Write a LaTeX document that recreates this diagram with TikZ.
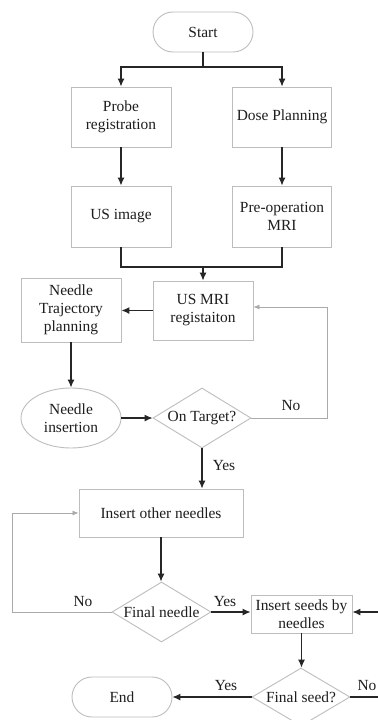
\documentclass[tikz,border=0pt]{standalone}
\usepackage{fontspec}
\setmainfont{Liberation Serif}
\usetikzlibrary{shapes.geometric,arrows.meta,calc}
\definecolor{boxgray}{HTML}{BDBDBD}
\definecolor{txt}{HTML}{1E1E1E}
\definecolor{fbgray}{HTML}{AAAAAA}
\begin{document}
\begin{tikzpicture}[x=1bp,y=-1bp,
  every node/.style={font=\fontsize{15.5}{18}\selectfont, text=txt},
  box/.style={draw=boxgray, line width=0.9pt, rectangle, inner sep=0pt, align=center},
  term/.style={box, rounded corners=20bp, minimum width=100bp, minimum height=40bp},
  oval/.style={draw=boxgray, line width=0.9pt, ellipse, inner sep=0pt, align=center, minimum width=100bp, minimum height=60bp},
  dia/.style={draw=boxgray, line width=0.9pt, diamond, inner sep=0pt, minimum width=98bp, minimum height=60bp},
  arr/.style={draw=black!85, line width=1.1pt, -{Latex[length=8bp,width=7bp]}},
  ln/.style={draw=black!85, line width=1.1pt},
  fb/.style={draw=fbgray, line width=0.8pt, -{Latex[length=6bp,width=5bp]}},
  fbl/.style={draw=fbgray, line width=0.8pt},
  lab/.style={inner sep=0pt}
]
\useasboundingbox (0,0) rectangle (377,720);
\fill[white] (0,0) rectangle (377,720);

\node[term] (start) at (203,32) {Start};
\node[box, minimum width=100bp, minimum height=60bp] (probe) at (121,117) {Probe\\registration};
\node[box, minimum width=99bp, minimum height=60bp] (dose) at (282,117) {Dose Planning};
\node[box, minimum width=100bp, minimum height=61bp] (us) at (121,216.5) {US image};
\node[box, minimum width=99bp, minimum height=61bp] (pre) at (282,216.5) {Pre-operation\\MRI};
\node[box, minimum width=100bp, minimum height=59bp] (usmri) at (203,310.5) {US MRI\\registaiton};
\node[box, minimum width=100bp, minimum height=64bp] (traj) at (71,310) {Needle\\Trajectory\\planning};
\node[oval] (ins) at (71,418) {Needle\\insertion};
\node[dia] (ot) at (202,418) {\makebox[0pt]{On Target?}};
\node[box, minimum width=164bp, minimum height=48bp] (ion) at (161,513) {Insert other needles};
\node[dia, minimum width=99bp] (fn) at (161.5,612) {\makebox[0pt]{Final needle}};
\node[box, minimum width=101bp, minimum height=38bp] (is) at (301.5,614) {Insert seeds by\\needles};
\node[dia, minimum height=58bp] (fs) at (301,697) {\makebox[0pt]{Final seed?}};
\node[term] (end) at (122,697) {End};

\coordinate (split) at (203,67);
\coordinate (merge) at (203,267);
\coordinate (fb1) at (327,418);
\coordinate (fb2) at (12,612);
\coordinate (edgeA) at (380,612);
\coordinate (edgeB) at (380,697);

\draw[ln] (start.south) -- (split);
\draw[arr] (split) -| (probe.north);
\draw[arr] (split) -| (dose.north);
\draw[arr] (probe.south) -- (us.north);
\draw[arr] (dose.south) -- (pre.north);
\draw[ln] (us.south) |- (merge);
\draw[ln] (pre.south) |- (merge);
\draw[arr] (merge) -- (usmri.north);
\draw[arr] (usmri.west) -- (usmri.west -| traj.east);
\draw[arr] (traj.south) -- (ins.north);
\draw[arr] (ins.east) -- (ot.west);
\draw[fb] (ot.east) -- (fb1) |- ($(usmri.east)+(0,-3.5)$);
\draw[arr] (ot.south) -- (ot.south |- ion.north);
\draw[arr] (ion.south) -- (ion.south |- fn.north);
\draw[fb] (fn.west) -- (fb2) |- (ion.west);
\draw[arr] (fn.east) -- (fn.east -| is.west);
\draw[arr] (edgeA) -- (edgeA -| is.east);
\draw[arr] (is.south) -- (is.south |- fs.north);
\draw[arr] (fs.west) -- (end.east);
\draw[ln] (fs.east) -- (edgeB);

\node[lab] (l1) at (291,406) {No};
\node[lab] (l2) at (224,466) {Yes};
\node[lab] (l3) at (83,602) {No};
\node[lab] (l4) at (225,602) {Yes};
\node[lab] (l5) at (226,686) {Yes};
\node[lab] (l6) at (367,686) {No};
\end{tikzpicture}
\end{document}
